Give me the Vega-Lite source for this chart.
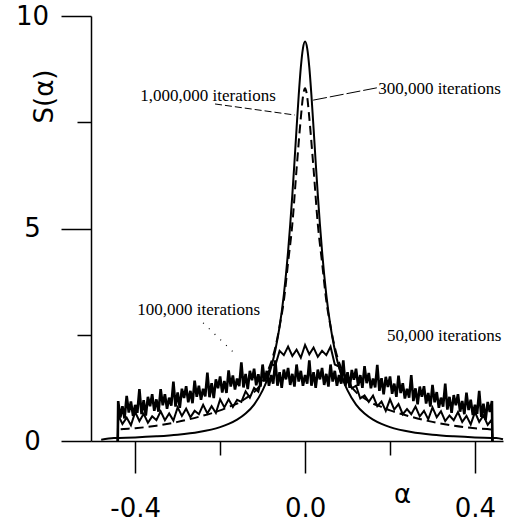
{
  "$schema": "https://vega.github.io/schema/vega-lite/v6.json",
  "width": 412,
  "height": 425,
  "autosize": {"type": "none"},
  "padding": {"left": 91, "top": 16, "right": 5, "bottom": 83},
  "background": "white",
  "config": {
    "view": {"stroke": null},
    "axis": {"grid": false, "domainColor": "black", "tickColor": "black", "domainWidth": 1.5, "tickWidth": 1.5, "labelColor": "black", "titleColor": "black", "labelFont": "DejaVu Sans", "labelFontSize": 26, "titleFont": "DejaVu Sans", "titleFontSize": 26, "titleFontWeight": "normal"}
  },
  "datasets": {
    "k50": [
      {"a":-0.441,"v":0},
      {"a":-0.44,"v":0.94},{"a":-0.435,"v":0.55},{"a":-0.43,"v":0.82},{"a":-0.425,"v":0.53},{"a":-0.42,"v":1.06},{"a":-0.415,"v":0.67},{"a":-0.41,"v":0.93},{"a":-0.405,"v":0.59},{"a":-0.4,"v":0.85},{"a":-0.395,"v":0.66},{"a":-0.39,"v":1.22},{"a":-0.385,"v":0.63},{"a":-0.38,"v":0.96},{"a":-0.375,"v":0.6},{"a":-0.37,"v":1.04},{"a":-0.365,"v":0.82},{"a":-0.36,"v":1.1},{"a":-0.355,"v":0.71},{"a":-0.35,"v":0.98},{"a":-0.345,"v":0.69},{"a":-0.34,"v":1.22},{"a":-0.335,"v":0.84},{"a":-0.33,"v":1.1},{"a":-0.325,"v":0.76},{"a":-0.32,"v":1.02},{"a":-0.315,"v":0.83},{"a":-0.31,"v":1.4},{"a":-0.305,"v":0.81},{"a":-0.3,"v":1.14},{"a":-0.295,"v":0.78},{"a":-0.29,"v":1.23},{"a":-0.285,"v":1.01},{"a":-0.28,"v":1.29},{"a":-0.275,"v":0.91},{"a":-0.27,"v":1.18},{"a":-0.265,"v":0.89},{"a":-0.26,"v":1.42},{"a":-0.255,"v":1.04},{"a":-0.25,"v":1.3},{"a":-0.245,"v":0.97},{"a":-0.24,"v":1.23},{"a":-0.235,"v":1.05},{"a":-0.23,"v":1.61},{"a":-0.225,"v":1.03},{"a":-0.22,"v":1.36},{"a":-0.215,"v":1.01},{"a":-0.21,"v":1.45},{"a":-0.205,"v":1.24},{"a":-0.2,"v":1.52},{"a":-0.195,"v":1.14},{"a":-0.19,"v":1.41},{"a":-0.185,"v":1.13},{"a":-0.18,"v":1.66},{"a":-0.175,"v":1.28},{"a":-0.17,"v":1.54},{"a":-0.165,"v":1.21},{"a":-0.16,"v":1.47},{"a":-0.155,"v":1.29},{"a":-0.15,"v":1.85},{"a":-0.145,"v":1.26},{"a":-0.14,"v":1.58},{"a":-0.135,"v":1.22},{"a":-0.13,"v":1.65},{"a":-0.125,"v":1.43},{"a":-0.12,"v":1.7},{"a":-0.115,"v":1.31},{"a":-0.11,"v":1.57},{"a":-0.105,"v":1.28},{"a":-0.1,"v":1.8},{"a":-0.095,"v":1.4},{"a":-0.09,"v":1.65},{"a":-0.085,"v":1.3},{"a":-0.08,"v":1.55},{"a":-0.075,"v":1.35},{"a":-0.07,"v":1.9},{"a":-0.065,"v":1.3},{"a":-0.06,"v":1.62},{"a":-0.055,"v":1.25},{"a":-0.05,"v":1.68},{"a":-0.045,"v":1.45},{"a":-0.04,"v":1.72},{"a":-0.035,"v":1.32},{"a":-0.03,"v":1.58},{"a":-0.025,"v":1.28},{"a":-0.02,"v":1.8},{"a":-0.015,"v":1.4},{"a":-0.01,"v":1.65},{"a":-0.005,"v":1.3},{"a":0,"v":1.55},
      {"a":0.005,"v":1.35},{"a":0.01,"v":1.9},{"a":0.015,"v":1.3},{"a":0.02,"v":1.62},{"a":0.025,"v":1.25},{"a":0.03,"v":1.68},{"a":0.035,"v":1.45},{"a":0.04,"v":1.72},{"a":0.045,"v":1.32},{"a":0.05,"v":1.58},{"a":0.055,"v":1.28},{"a":0.06,"v":1.8},{"a":0.065,"v":1.4},{"a":0.07,"v":1.65},{"a":0.075,"v":1.3},{"a":0.08,"v":1.55},{"a":0.085,"v":1.35},{"a":0.09,"v":1.9},{"a":0.095,"v":1.3},{"a":0.1,"v":1.62},{"a":0.105,"v":1.25},{"a":0.11,"v":1.67},{"a":0.115,"v":1.44},{"a":0.12,"v":1.7},{"a":0.125,"v":1.3},{"a":0.13,"v":1.55},{"a":0.135,"v":1.25},{"a":0.14,"v":1.76},{"a":0.145,"v":1.36},{"a":0.15,"v":1.6},{"a":0.155,"v":1.24},{"a":0.16,"v":1.47},{"a":0.165,"v":1.26},{"a":0.17,"v":1.79},{"a":0.175,"v":1.18},{"a":0.18,"v":1.48},{"a":0.185,"v":1.1},{"a":0.19,"v":1.51},{"a":0.195,"v":1.27},{"a":0.2,"v":1.52},{"a":0.205,"v":1.11},{"a":0.21,"v":1.35},{"a":0.215,"v":1.04},{"a":0.22,"v":1.54},{"a":0.225,"v":1.13},{"a":0.23,"v":1.36},{"a":0.235,"v":1.0},{"a":0.24,"v":1.23},{"a":0.245,"v":1.02},{"a":0.25,"v":1.55},{"a":0.255,"v":0.94},{"a":0.26,"v":1.24},{"a":0.265,"v":0.86},{"a":0.27,"v":1.28},{"a":0.275,"v":1.04},{"a":0.28,"v":1.29},{"a":0.285,"v":0.88},{"a":0.29,"v":1.13},{"a":0.295,"v":0.81},{"a":0.3,"v":1.32},{"a":0.305,"v":0.91},{"a":0.31,"v":1.15},{"a":0.315,"v":0.78},{"a":0.32,"v":1.02},{"a":0.325,"v":0.81},{"a":0.33,"v":1.35},{"a":0.335,"v":0.74},{"a":0.34,"v":1.04},{"a":0.345,"v":0.66},{"a":0.35,"v":1.08},{"a":0.355,"v":0.84},{"a":0.36,"v":1.1},{"a":0.365,"v":0.69},{"a":0.37,"v":0.94},{"a":0.375,"v":0.63},{"a":0.38,"v":1.14},{"a":0.385,"v":0.73},{"a":0.39,"v":0.97},{"a":0.395,"v":0.61},{"a":0.4,"v":0.85},{"a":0.405,"v":0.64},{"a":0.41,"v":1.18},{"a":0.415,"v":0.57},{"a":0.42,"v":0.88},{"a":0.425,"v":0.5},{"a":0.43,"v":0.92},{"a":0.435,"v":0.68},{"a":0.44,"v":0.94},
      {"a":0.441,"v":0}
    ],
    "k100": [
      {"a":-0.441,"v":0},
      {"a":-0.44,"v":0.61},{"a":-0.43,"v":0.4},{"a":-0.42,"v":0.55},{"a":-0.41,"v":0.37},{"a":-0.4,"v":0.68},{"a":-0.39,"v":0.47},{"a":-0.38,"v":0.64},{"a":-0.37,"v":0.43},{"a":-0.36,"v":0.58},{"a":-0.35,"v":0.49},{"a":-0.34,"v":0.7},{"a":-0.33,"v":0.49},{"a":-0.32,"v":0.65},{"a":-0.31,"v":0.48},{"a":-0.3,"v":0.79},{"a":-0.29,"v":0.59},{"a":-0.28,"v":0.76},{"a":-0.27,"v":0.56},{"a":-0.26,"v":0.71},{"a":-0.25,"v":0.63},{"a":-0.24,"v":0.85},{"a":-0.23,"v":0.65},{"a":-0.22,"v":0.82},{"a":-0.21,"v":0.66},{"a":-0.2,"v":0.98},{"a":-0.19,"v":0.79},{"a":-0.18,"v":0.98},{"a":-0.17,"v":0.8},{"a":-0.16,"v":0.97},{"a":-0.15,"v":0.92},{"a":-0.14,"v":1.17},{"a":-0.13,"v":1.02},{"a":-0.12,"v":1.25},{"a":-0.11,"v":1.16},{"a":-0.1,"v":1.56},{"a":-0.09,"v":1.49},{"a":-0.08,"v":1.8},{"a":-0.07,"v":1.78},{"a":-0.06,"v":2.12},{"a":-0.05,"v":2.02},{"a":-0.04,"v":2.22},{"a":-0.03,"v":2.0},{"a":-0.02,"v":2.15},{"a":-0.01,"v":1.96},{"a":0,"v":2.26},{"a":0.01,"v":2.04},{"a":0.02,"v":2.2},{"a":0.03,"v":1.98},{"a":0.04,"v":2.12},{"a":0.05,"v":2.02},{"a":0.06,"v":2.22},{"a":0.07,"v":1.8},{"a":0.08,"v":1.75},{"a":0.09,"v":1.41},{"a":0.1,"v":1.56},{"a":0.11,"v":1.24},{"a":0.12,"v":1.3},{"a":0.13,"v":1.0},{"a":0.14,"v":1.07},{"a":0.15,"v":0.92},{"a":0.16,"v":1.07},{"a":0.17,"v":0.82},{"a":0.18,"v":0.93},{"a":0.19,"v":0.71},{"a":0.2,"v":0.98},{"a":0.21,"v":0.74},{"a":0.22,"v":0.87},{"a":0.23,"v":0.63},{"a":0.24,"v":0.75},{"a":0.25,"v":0.63},{"a":0.26,"v":0.81},{"a":0.27,"v":0.58},{"a":0.28,"v":0.71},{"a":0.29,"v":0.51},{"a":0.3,"v":0.79},{"a":0.31,"v":0.56},{"a":0.32,"v":0.7},{"a":0.33,"v":0.47},{"a":0.34,"v":0.6},{"a":0.35,"v":0.49},{"a":0.36,"v":0.68},{"a":0.37,"v":0.45},{"a":0.38,"v":0.59},{"a":0.39,"v":0.39},{"a":0.4,"v":0.68},{"a":0.41,"v":0.45},{"a":0.42,"v":0.6},{"a":0.43,"v":0.38},{"a":0.44,"v":0.51},
      {"a":0.441,"v":0}
    ],
    "k300": [
      {"a":-0.441,"v":0},{"a":-0.44,"v":0.27},{"a":-0.4,"v":0.3},{"a":-0.35,"v":0.36},{"a":-0.3,"v":0.45},{"a":-0.25,"v":0.57},{"a":-0.2,"v":0.72},{"a":-0.18,"v":0.8},{"a":-0.16,"v":0.88},{"a":-0.14,"v":1.0},{"a":-0.12,"v":1.15},{"a":-0.1,"v":1.4},{"a":-0.09,"v":1.6},{"a":-0.08,"v":1.85},{"a":-0.07,"v":2.2},{"a":-0.06,"v":2.7},{"a":-0.05,"v":3.3},{"a":-0.04,"v":4.2},{"a":-0.03,"v":5.1},{"a":-0.02,"v":6.4},{"a":-0.01,"v":7.6},{"a":-0.005,"v":8.1},{"a":0,"v":8.3},
      {"a":0.005,"v":8.1},{"a":0.01,"v":7.6},{"a":0.02,"v":6.4},{"a":0.03,"v":5.1},{"a":0.04,"v":4.2},{"a":0.05,"v":3.3},{"a":0.06,"v":2.7},{"a":0.07,"v":2.2},{"a":0.08,"v":1.85},{"a":0.09,"v":1.6},{"a":0.1,"v":1.4},{"a":0.12,"v":1.15},{"a":0.14,"v":1.0},{"a":0.16,"v":0.88},{"a":0.18,"v":0.8},{"a":0.2,"v":0.72},{"a":0.25,"v":0.57},{"a":0.3,"v":0.45},{"a":0.35,"v":0.36},{"a":0.4,"v":0.3},{"a":0.44,"v":0.27},{"a":0.441,"v":0}
    ],
    "k1000": [
      {"a":-0.48,"v":0.03},{"a":-0.45,"v":0.07},{"a":-0.4,"v":0.084},{"a":-0.35,"v":0.11},{"a":-0.3,"v":0.148},{"a":-0.25,"v":0.212},{"a":-0.2,"v":0.327},{"a":-0.18,"v":0.401},{"a":-0.16,"v":0.502},{"a":-0.14,"v":0.645},{"a":-0.12,"v":0.857},{"a":-0.1,"v":1.19},{"a":-0.09,"v":1.42},{"a":-0.08,"v":1.73},{"a":-0.07,"v":2.14},{"a":-0.06,"v":2.69},{"a":-0.05,"v":3.44},{"a":-0.04,"v":4.46},{"a":-0.035,"v":5.09},{"a":-0.03,"v":5.79},{"a":-0.025,"v":6.56},{"a":-0.02,"v":7.36},{"a":-0.015,"v":8.13},{"a":-0.01,"v":8.79},{"a":-0.005,"v":9.24},{"a":0,"v":9.4},
      {"a":0.005,"v":9.24},{"a":0.01,"v":8.79},{"a":0.015,"v":8.13},{"a":0.02,"v":7.36},{"a":0.025,"v":6.56},{"a":0.03,"v":5.79},{"a":0.035,"v":5.09},{"a":0.04,"v":4.46},{"a":0.05,"v":3.44},{"a":0.06,"v":2.69},{"a":0.07,"v":2.14},{"a":0.08,"v":1.73},{"a":0.09,"v":1.42},{"a":0.1,"v":1.19},{"a":0.12,"v":0.857},{"a":0.14,"v":0.645},{"a":0.16,"v":0.502},{"a":0.18,"v":0.401},{"a":0.2,"v":0.327},{"a":0.25,"v":0.212},{"a":0.3,"v":0.148},{"a":0.35,"v":0.11},{"a":0.4,"v":0.084},{"a":0.45,"v":0.07},{"a":0.466,"v":0.04}
    ],
    "lead1": [{"a":-0.212,"v":7.93},{"a":-0.024,"v":7.67}],
    "lead3": [{"a":0.169,"v":8.31},{"a":0.019,"v":8.02}],
    "lead10": [{"a":-0.24,"v":2.78},{"a":-0.169,"v":2.09}],
    "notes": [
      {"a":-0.388,"v":8.12,"t":"1,000,000 iterations"},
      {"a":0.172,"v":8.28,"t":"300,000 iterations"},
      {"a":-0.395,"v":3.08,"t":"100,000 iterations"},
      {"a":0.193,"v":2.47,"t":"50,000 iterations"}
    ]
  },
  "encoding": {
    "x": {
      "field": "a", "type": "quantitative",
      "scale": {"domain": [-0.504, 0.466], "nice": false, "zero": false},
      "axis": {
        "values": [-0.4, -0.2, 0, 0.2, 0.4],
        "tickSize": {"condition": {"test": "abs(datum.value) < 0.01 || abs(abs(datum.value) - 0.4) < 0.01", "value": 32}, "value": 14},
        "labelExpr": "abs(datum.value) < 0.01 ? '0.0' : (abs(abs(datum.value) - 0.4) < 0.01 ? ((datum.value < 0 ? '-' : '') + format(abs(datum.value), '.1f')) : '')",
        "labelPadding": 43,
        "labelBaseline": "alphabetic",
        "labelFlush": false,
        "labelOverlap": false,
        "title": "α",
        "titleX": 311,
        "titleY": 61,
        "titleAlign": "center",
        "titleBaseline": "alphabetic"
      }
    },
    "y": {
      "field": "v", "type": "quantitative",
      "scale": {"domain": [0, 10], "nice": false},
      "axis": {
        "values": [0, 2.5, 5, 7.5, 10],
        "tickSize": {"condition": {"test": "datum.value % 5 == 0", "value": 30}, "value": 14},
        "labelExpr": "datum.value % 5 == 0 ? format(datum.value, 'd') : ''",
        "labelAlign": "center",
        "labelPadding": 29,
        "labelFlush": false,
        "labelOverlap": false,
        "title": "S(α)",
        "titleAngle": 270,
        "titleX": -39,
        "titleY": 80,
        "titleAlign": "center",
        "titleBaseline": "alphabetic"
      }
    }
  },
  "layer": [
    {"data": {"name": "k50"}, "mark": {"type": "line", "color": "black", "strokeWidth": 2.6}},
    {"data": {"name": "k100"}, "mark": {"type": "line", "color": "black", "strokeWidth": 2}},
    {"data": {"name": "k300"}, "mark": {"type": "line", "color": "black", "strokeWidth": 2, "strokeDash": [9, 5], "interpolate": "monotone"}},
    {"data": {"name": "k1000"}, "mark": {"type": "line", "color": "black", "strokeWidth": 2, "interpolate": "monotone"}},
    {"data": {"name": "lead1"}, "mark": {"type": "line", "color": "black", "strokeWidth": 1, "strokeDash": [7, 3]}},
    {"data": {"name": "lead3"}, "mark": {"type": "line", "color": "black", "strokeWidth": 1, "strokeDash": [14, 3]}},
    {"data": {"name": "lead10"}, "mark": {"type": "line", "color": "black", "strokeWidth": 1.2, "strokeDash": [1, 7]}},
    {"data": {"name": "notes"}, "mark": {"type": "text", "color": "black", "font": "Liberation Serif", "fontSize": 17, "align": "left", "baseline": "middle"}, "encoding": {"text": {"field": "t"}}}
  ]
}
